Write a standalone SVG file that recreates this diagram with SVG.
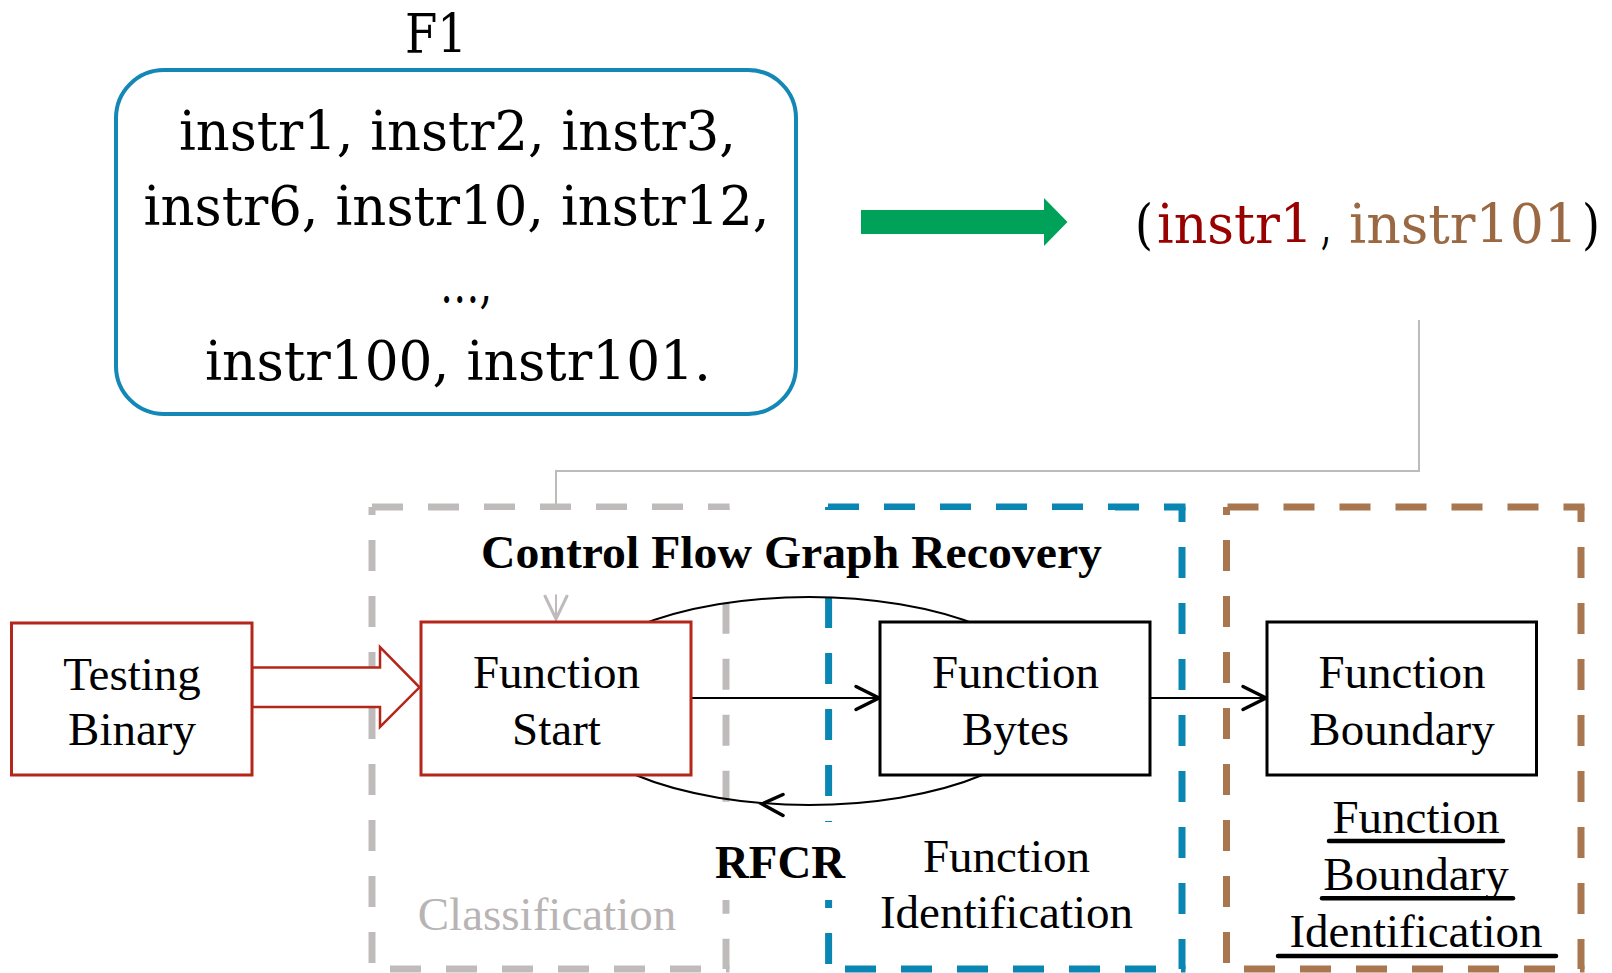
<svg xmlns="http://www.w3.org/2000/svg" width="1612" height="973" viewBox="0 0 1612 973">
<style>
.dash{fill:none;stroke-width:7;stroke-dasharray:31 25}
.gray{stroke:#BFBBBB}
.blue{stroke:#0A86B2}
.brown{stroke:#A8774F}
.lbl{font-family:"Liberation Serif","Times New Roman",serif;font-size:47px;fill:#000;text-anchor:middle}
.bold{font-weight:bold}
.top{font-family:"DejaVu Serif","Liberation Serif",serif;font-size:55px;fill:#000}
.red{fill:#990000}
.tan{fill:#9A6843}
.redbox{fill:#fff;stroke:#B5261A;stroke-width:3}
.blkbox{fill:#fff;stroke:#000;stroke-width:3}
.thin{fill:none;stroke:#000;stroke-width:2}
.ul{stroke:#000;stroke-width:4.5;stroke-linecap:round}
</style>
<defs>
<marker id="chev" markerUnits="userSpaceOnUse" viewBox="0 0 30 30" markerWidth="30" markerHeight="30" refX="26" refY="15" orient="auto">
<path d="M3,3.5 L26,15 L3,26.5" fill="none" stroke="#000" stroke-width="3.5" stroke-linecap="round"/>
</marker>
<marker id="chevg" markerUnits="userSpaceOnUse" viewBox="0 0 30 30" markerWidth="30" markerHeight="30" refX="26" refY="15" orient="auto">
<path d="M3,4 L26,15 L3,26" fill="none" stroke="#BFBBBB" stroke-width="3" stroke-linecap="round"/>
</marker>
</defs>
<rect width="1612" height="973" fill="#fff"/>

<g id="classification-region">
<line class="dash gray" x1="372" y1="507" x2="729.5" y2="507" style="stroke-dashoffset:0"/>
<line class="dash gray" x1="372" y1="507" x2="372" y2="969" style="stroke-dashoffset:23"/>
<line class="dash gray" x1="726" y1="507" x2="726" y2="969" style="stroke-dashoffset:16.3"/>
<line class="dash gray" x1="372" y1="969" x2="729.5" y2="969" style="stroke-dashoffset:38"/>
</g>
<g id="function-identification-region">
<line class="dash blue" x1="825" y1="507" x2="1185.5" y2="507" style="stroke-dashoffset:53"/>
<line class="dash blue" x1="828.6" y1="507" x2="828.6" y2="969" style="stroke-dashoffset:22"/>
<line class="dash blue" x1="1182" y1="507" x2="1182" y2="969" style="stroke-dashoffset:16"/>
<line class="dash blue" x1="828.6" y1="969" x2="1185.5" y2="969" style="stroke-dashoffset:39.6"/>
</g>
<g id="boundary-identification-region">
<line class="dash brown" x1="1223" y1="507" x2="1584.5" y2="507" style="stroke-dashoffset:51.5"/>
<line class="dash brown" x1="1226.5" y1="507" x2="1226.5" y2="969" style="stroke-dashoffset:23"/>
<line class="dash brown" x1="1581" y1="507" x2="1581" y2="969" style="stroke-dashoffset:16"/>
<line class="dash brown" x1="1226.5" y1="969" x2="1584.5" y2="969" style="stroke-dashoffset:38.5"/>
</g>

<g id="connectors">
<polyline points="1419,320 1419,471 556,471 556,619" fill="none" stroke="#BFBBBB" stroke-width="2" marker-end="url(#chevg)"/>
<ellipse class="thin" cx="809" cy="701" rx="247" ry="104"/>
<path d="M783,794.5 L762,804 L783,815.5" fill="none" stroke="#000" stroke-width="3.5" stroke-linecap="round"/>
<line class="thin" x1="691" y1="698" x2="879" y2="698" marker-end="url(#chev)"/>
<line class="thin" x1="1150" y1="698" x2="1266" y2="698" marker-end="url(#chev)"/>
<polygon points="252,667.5 380,667.5 380,647 419.5,687.3 380,727 380,707 252,707" fill="#fff" stroke="#B5261A" stroke-width="2.5"/>
<polygon points="861,210 1044,210 1044,198 1067.5,222 1044,246 1044,234 861,234" fill="#00A259"/>
</g>

<g id="title-cfgr">
<rect x="470" y="510" width="645" height="84.5" fill="#fff"/>
<text class="lbl bold" x="791.5" y="568" textLength="621" lengthAdjust="spacingAndGlyphs">Control Flow Graph Recovery</text>
</g>
<g id="label-rfcr">
<rect x="705" y="822" width="148" height="78" fill="#fff"/>
<text class="lbl bold" x="780" y="878" textLength="130" lengthAdjust="spacingAndGlyphs">RFCR</text>
</g>

<g id="node-f1">
<text class="top" x="405" y="53" textLength="62" lengthAdjust="spacingAndGlyphs">F1</text>
<rect x="116" y="70" width="680" height="344" rx="48" ry="48" fill="#fff" stroke="#1387B5" stroke-width="4"/>
<text class="top" x="179" y="150" textLength="557" lengthAdjust="spacingAndGlyphs">instr1, instr2, instr3,</text>
<text class="top" x="143.6" y="225" textLength="626" lengthAdjust="spacingAndGlyphs">instr6, instr10, instr12,</text>
<text class="top" x="440" y="302" textLength="52" lengthAdjust="spacingAndGlyphs">…,</text>
<text class="top" x="205" y="380" textLength="506" lengthAdjust="spacingAndGlyphs">instr100, instr101.</text>
</g>

<g id="node-boundary-pair">
<text class="top" x="1135" y="243" textLength="18" lengthAdjust="spacingAndGlyphs">(</text>
<text class="top red" x="1157" y="243" textLength="156" lengthAdjust="spacingAndGlyphs">instr1</text>
<text class="top" x="1321" y="243" textLength="10" lengthAdjust="spacingAndGlyphs">,</text>
<text class="top tan" x="1349" y="243" textLength="229" lengthAdjust="spacingAndGlyphs">instr101</text>
<text class="top" x="1582" y="243" textLength="18" lengthAdjust="spacingAndGlyphs">)</text>
</g>

<g id="node-testing-binary">
<rect class="redbox" x="11.5" y="623" width="240.5" height="152"/>
<text class="lbl" x="132" y="690">Testing</text>
<text class="lbl" x="132" y="745">Binary</text>
</g>
<g id="node-function-start">
<rect class="redbox" x="421" y="622" width="270" height="153"/>
<text class="lbl" x="556.5" y="688">Function</text>
<text class="lbl" x="556.5" y="745">Start</text>
</g>
<g id="node-function-bytes">
<rect class="blkbox" x="880" y="622" width="270" height="153"/>
<text class="lbl" x="1015.5" y="688">Function</text>
<text class="lbl" x="1015.5" y="745">Bytes</text>
</g>
<g id="node-function-boundary">
<rect class="blkbox" x="1267" y="622" width="269.5" height="153"/>
<text class="lbl" x="1402" y="688">Function</text>
<text class="lbl" x="1402" y="745">Boundary</text>
</g>

<g id="label-classification">
<text class="lbl" x="547" y="930" style="fill:#B8B4B4">Classification</text>
</g>
<g id="label-function-identification">
<text class="lbl" x="1006.5" y="872">Function</text>
<text class="lbl" x="1006.5" y="928">Identification</text>
</g>
<g id="label-boundary-identification">
<text class="lbl" x="1416" y="833">Function</text>
<text class="lbl" x="1416" y="890">Boundary</text>
<text class="lbl" x="1416" y="946.7">Identification</text>
<line class="ul" x1="1329" y1="841" x2="1503" y2="841"/>
<line class="ul" x1="1322" y1="898.3" x2="1513" y2="898.3"/>
<line class="ul" x1="1278" y1="956" x2="1556" y2="956"/>
</g>
</svg>
